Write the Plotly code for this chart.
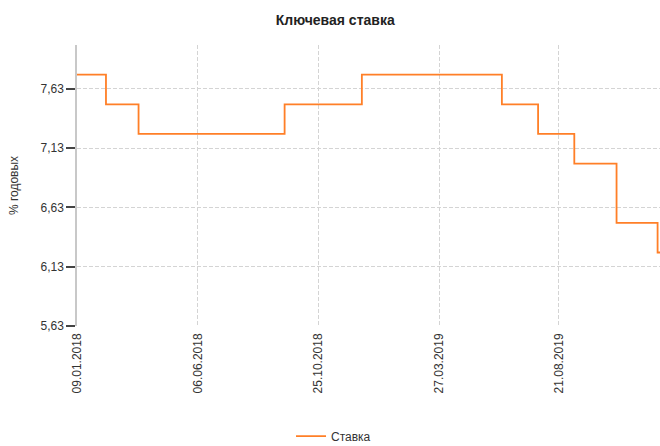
import pandas as pd
import plotly.graph_objects as go

# Key rate change dates and values
change_dates = ["2018-01-09", "2018-02-12", "2018-03-26", "2018-09-17", "2018-12-17",
                "2019-06-17", "2019-07-29", "2019-09-09", "2019-10-28", "2019-12-16", "2019-12-18"]
rates = [7.75, 7.50, 7.25, 7.50, 7.75, 7.50, 7.25, 7.00, 6.50, 6.25, 6.25]

x_tick_dates = ["2018-01-09", "2018-06-06", "2018-10-25", "2019-03-27", "2019-08-21"]
x_tick_labels = ["09.01.2018", "06.06.2018", "25.10.2018", "27.03.2019", "21.08.2019"]
y_tick_vals = [5.63, 6.13, 6.63, 7.13, 7.63]
y_tick_labels = ["5,63", "6,13", "6,63", "7,13", "7,63"]

# non-trading days (Russian calendar)
holidays = ["2018-01-01", "2018-01-02", "2018-01-03", "2018-01-04", "2018-01-05", "2018-01-08",
            "2018-02-23", "2018-03-08", "2018-03-09", "2018-04-30", "2018-05-01", "2018-05-02",
            "2018-05-09", "2018-06-11", "2018-06-12", "2018-11-05", "2018-12-31",
            "2019-01-01", "2019-01-02", "2019-01-03", "2019-01-04", "2019-01-07", "2019-01-08",
            "2019-03-08", "2019-05-01", "2019-05-02", "2019-05-03", "2019-05-09", "2019-05-10",
            "2019-06-12", "2019-11-04"]
working_saturdays = ["2018-04-28", "2018-06-09"]

all_days = pd.date_range("2017-12-01", "2020-01-31", freq="D")
breaks = [d.strftime("%Y-%m-%d") for d in all_days
          if (d.weekday() >= 5 and d.strftime("%Y-%m-%d") not in working_saturdays)]
breaks += holidays

fig = go.Figure()
fig.add_trace(go.Scatter(
    x=change_dates, y=rates, mode="lines", name="Ставка",
    line=dict(color="#ff7f27", width=1.8, shape="hv"),
))

fig.update_layout(
    width=660, height=446,
    margin=dict(l=77, r=0, t=45, b=120, autoexpand=False),
    paper_bgcolor="white", plot_bgcolor="white",
    font=dict(family="Liberation Sans, Arial, sans-serif", size=12, color="#333333"),
    title=dict(text="<b>Ключевая ставка</b>", x=0.508, xref="container", xanchor="center",
               y=0.955, yref="container", yanchor="middle", pad=dict(t=0, b=0),
               font=dict(size=14, color="#222222")),
    showlegend=True,
    legend=dict(orientation="h", x=0.44, xanchor="center", y=0.022, yref="container",
                yanchor="middle", font=dict(size=12, color="#333333")),
)

fig.update_xaxes(
    type="date",
    range=["2018-01-09", "2019-12-18"],
    rangebreaks=[dict(values=breaks)],
    tickmode="array", tickvals=x_tick_dates, ticktext=x_tick_labels,
    tickangle=-90, ticks="", ticklabelstandoff=4, automargin=False,
    showgrid=True, gridcolor="#d4d4d4", griddash="4px,2px", gridwidth=1,
    showline=False, zeroline=False,
)
fig.update_yaxes(
    range=[5.63, 8.0], automargin=False,
    tickmode="array", tickvals=y_tick_vals, ticktext=y_tick_labels,
    ticks="outside", ticklen=9, tickcolor="#444444", tickwidth=1.5,
    showgrid=True, gridcolor="#d4d4d4", griddash="4px,2px", gridwidth=1,
    showline=True, linecolor="#c8c8c8", linewidth=1.5,
    zeroline=False,
    title=dict(text="% годовых", font=dict(size=12, color="#333333"), standoff=19),
)

fig.write_html("out.html", config={"displayModeBar": False},
               post_script="document.body.style.margin='0';document.body.style.overflow='hidden';")
